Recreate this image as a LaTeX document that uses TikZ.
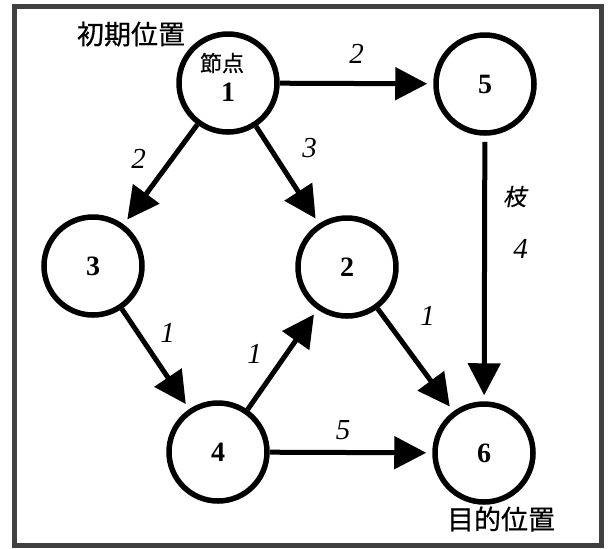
\documentclass[tikz,border=0pt]{standalone}
\usepackage{fontspec}
\setmainfont{Liberation Serif}
\newfontfamily\cjk[FakeBold=0.6]{Noto Sans CJK JP}
\newfontfamily\cjkslant[FakeSlant=0.2,FakeBold=0.6]{Noto Sans CJK JP}
\usetikzlibrary{arrows.meta,positioning}
\tikzset{
  >={Triangle[length=16pt,width=16pt]},
  % nodes
  nd/.style={circle,draw=black,fill=white,line width=2.75pt,inner sep=0pt,
             minimum size=49pt,font=\fontsize{14}{16}\selectfont\bfseries},
  jp/.style={font=\cjk\fontsize{13.5}{15}\selectfont,inner sep=0pt},
  % edges
  ed/.style={->,draw=black,line width=2.5pt,shorten >=3pt},
  wt/.style={font=\fontsize{14.5}{16}\selectfont\itshape,inner sep=1pt},
  frame/.style={draw=black!75,line width=2.5pt},
}
\begin{document}
\begin{tikzpicture}[x=0.5pt,y=-0.5pt]
\useasboundingbox (0,0) rectangle (609,548);
\draw[frame] (14,6) rectangle (601,545);
  \node[nd,text height=18pt,text depth=0pt] (n1) at (228,83) {1};
  \node[nd] (n2) at (347,267) {2};
  \node[nd] (n3) at (93,266) {3};
  \node[nd] (n4) at (218,452) {4};
  \node[nd] (n5) at (485,84) {5};
  \node[nd] (n6) at (484,453) {6};
  \node[jp] (start) at (131,34) {初期位置};
  \node[jp] (goal) at (501,519) {目的位置};
  \node[jp,font=\cjk\fontsize{11}{12}\selectfont] (n1txt)
    at ([xshift=-3pt,yshift=10pt]n1.center) {節点};
  \draw[ed] (n1) -- node[wt,yshift=15pt] {2} (n5);
  \draw[ed] (n1) -- node[wt,xshift=-11pt,yshift=8pt] {2} (n3);
  \draw[ed] (n1) -- node[wt,xshift=11pt,yshift=13.5pt] {3} (n2);
  \draw[ed] (n3) -- node[wt,xshift=6pt,yshift=13pt] {1} (n4);
  \draw[ed] (n4) -- node[wt,xshift=-14pt,yshift=3pt] {1} (n2);
  \draw[ed] (n2) -- node[wt,xshift=6pt,yshift=22pt] {1} (n6);
  \draw[ed] (n4) -- node[wt,xshift=-4pt,yshift=11pt] {5} (n6);
  \draw[ed,shorten <=3pt] (n5) --
    node[wt,xshift=15pt,yshift=36pt,font=\cjkslant\fontsize{11.5}{12}\selectfont] {枝}
    node[wt,xshift=18pt,yshift=10pt] {4} (n6);
\end{tikzpicture}
\end{document}
